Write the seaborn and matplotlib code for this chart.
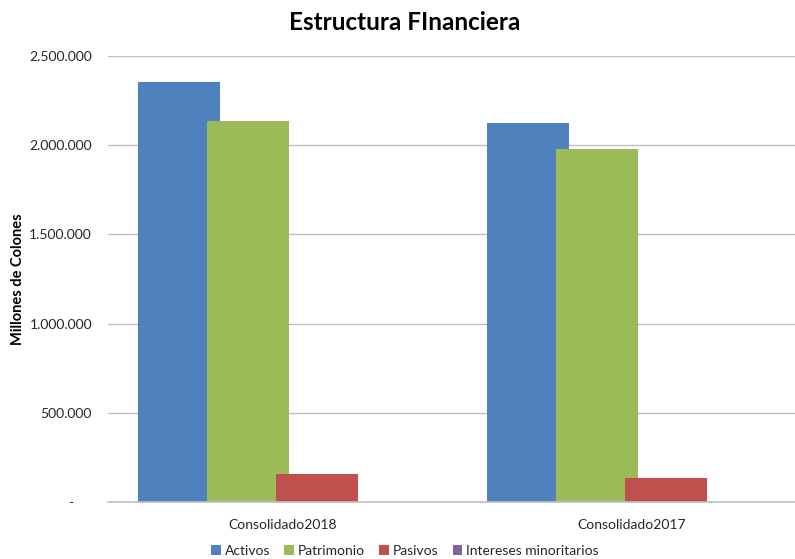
import matplotlib
matplotlib.use("Agg")
import matplotlib.pyplot as plt
import seaborn as sns
import pandas as pd
from matplotlib.patches import Patch
from matplotlib.ticker import FuncFormatter

categories = ["Consolidado2018", "Consolidado2017"]
series = ["Activos", "Patrimonio", "Pasivos", "Intereses minoritarios"]
activos = [2354000, 2124000]
patrimonio = [2136000, 1979000]
pasivos = [157000, 134500]
intereses = [0, 0]
colors = ["#4F81BD", "#9BBB59", "#C0504D", "#8064A2"]
yticks = [0, 500000, 1000000, 1500000, 2000000, 2500000]

rows = []
for name, vals in zip(series, [activos, patrimonio, pasivos, intereses]):
    for c, v in zip(categories, vals):
        rows.append({"cat": c, "serie": name, "valor": v})
df = pd.DataFrame(rows)

sns.set_style("white")
plt.rcParams["font.family"] = ["Lato", "DejaVu Sans"]

fig = plt.figure(figsize=(7.95, 5.59), dpi=100)
ax = fig.add_axes([108/795, 57/559, 687/795, 446/559])

step = 69/349
sns.barplot(data=df, x="cat", y="valor", hue="serie", order=categories,
            hue_order=series, palette=colors, dodge=True, width=4*step,
            saturation=1, legend=False, ax=ax, errorbar=None)

# widen bars so neighbours overlap as in the reference
new_w = 82/349
for p in ax.patches:
    cx = p.get_x() + p.get_width()/2
    p.set_width(new_w)
    p.set_x(cx - new_w/2)
    p.set_linewidth(0)

ax.set_xlim(-0.5, -0.5 + 687/349)
ax.set_ylim(0, 2500000)
ax.set_yticks(yticks)
ax.yaxis.set_major_formatter(FuncFormatter(
    lambda v, p: "-     " if v == 0 else f"{int(v):,}".replace(",", ".")))
ax.grid(axis="y", color="#BFBFBF", linewidth=1)
ax.set_axisbelow(True)
for s in ["left", "right", "top"]:
    ax.spines[s].set_visible(False)
ax.spines["bottom"].set_color("#BFBFBF")
ax.spines["bottom"].set_linewidth(1.2)
ax.tick_params(axis="y", length=0, labelsize=10, colors="#262626", pad=11.5)
ax.tick_params(axis="x", length=0, labelsize=10, colors="#262626", pad=12)
ax.set_xlabel("")
ax.set_ylabel("Millones de Colones", fontsize=10.5, fontweight="bold", color="black")
ax.yaxis.set_label_coords((25 - 108)/687, 0.5)

fig.text(405/795, 1 - 22/559, "Estructura FInanciera", ha="center", va="center",
         fontsize=17.5, fontweight="bold", color="black")

handles = [Patch(facecolor=c, edgecolor="none", label=s) for c, s in zip(colors, series)]
fig.legend(handles=handles, loc="center", bbox_to_anchor=(405/795, 1 - 551/559),
           ncol=4, frameon=False, fontsize=10, handlelength=0.7, handleheight=0.7,
           handletextpad=0.3, columnspacing=1.0)

fig.savefig("out.png", dpi=100)
